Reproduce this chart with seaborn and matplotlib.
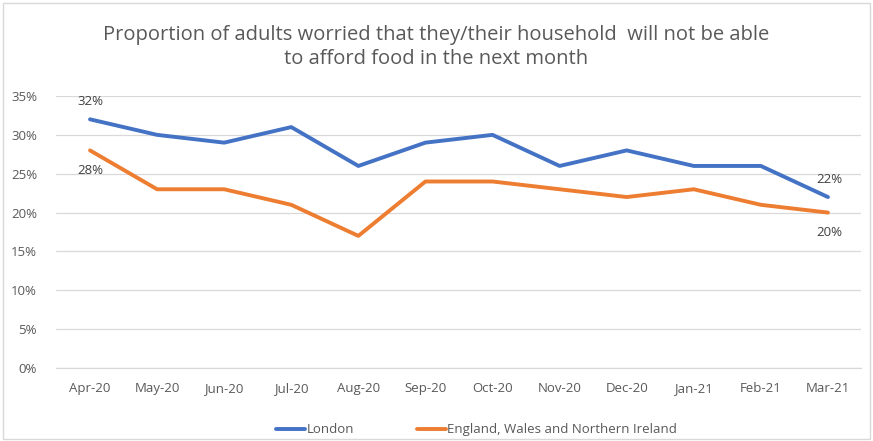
import matplotlib
matplotlib.use("Agg")
import matplotlib.pyplot as plt
import seaborn as sns
import pandas as pd
from matplotlib.patches import Rectangle

months = ["Apr-20", "May-20", "Jun-20", "Jul-20", "Aug-20", "Sep-20",
          "Oct-20", "Nov-20", "Dec-20", "Jan-21", "Feb-21", "Mar-21"]
london = [32, 30, 29, 31, 26, 29, 30, 26, 28, 26, 26, 22]
ewni = [28, 23, 23, 21, 17, 24, 24, 23, 22, 23, 21, 20]
series_names = ["London", "England, Wales and Northern Ireland"]
colors = ["#4472C4", "#ED7D31"]
y_ticks = [0, 5, 10, 15, 20, 25, 30, 35]

df = pd.DataFrame({
    "month": months * 2,
    "x": list(range(len(months))) * 2,
    "value": london + ewni,
    "series": [series_names[0]] * len(months) + [series_names[1]] * len(months),
})

sns.set_theme(style="white")
plt.rcParams["font.family"] = ["Open Sans", "DejaVu Sans"]
text_color = "#595959"

fig = plt.figure(figsize=(8.73, 4.41), dpi=100)
ax = fig.add_axes([0.0647, 0.1655, 0.9221, 0.6168])

sns.lineplot(data=df, x="x", y="value", hue="series", palette=colors,
             linewidth=2.8, ax=ax, legend=False, sort=False)

ax.set_xlim(-0.5, len(months) - 0.5)
ax.set_ylim(0, 35)
ax.set_yticks(y_ticks)
ax.set_yticklabels([f"{v}%" for v in y_ticks], color=text_color, fontsize=9.5)
ax.set_xticks(range(len(months)))
ax.set_xticklabels(months, color=text_color, fontsize=9.5)
ax.tick_params(axis="both", length=0, pad=10)
ax.tick_params(axis="y", pad=14)
ax.set_xlabel("")
ax.set_ylabel("")
ax.grid(axis="y", color="#D9D9D9", linewidth=0.9)
ax.set_axisbelow(True)
for side in ["top", "right", "left"]:
    ax.spines[side].set_visible(False)
ax.spines["bottom"].set_color("#D9D9D9")
ax.spines["bottom"].set_linewidth(0.9)

# value labels at the first and last month
last = len(months) - 1
label_kw = dict(color="#404040", fontsize=9.5, ha="center")
ax.annotate(f"{london[0]}%", (0, london[0]), xytext=(0, 8),
            textcoords="offset points", va="bottom", **label_kw)
ax.annotate(f"{ewni[0]}%", (0, ewni[0]), xytext=(0, -10),
            textcoords="offset points", va="top", **label_kw)
ax.annotate(f"{london[last]}%", (last, london[last]), xytext=(1, 8),
            textcoords="offset points", va="bottom", **label_kw)
ax.annotate(f"{ewni[last]}%", (last, ewni[last]), xytext=(1, -10),
            textcoords="offset points", va="top", **label_kw)

fig.text(0.5, 0.893, "Proportion of adults worried that they/their household  will not be able\nto afford food in the next month",
         ha="center", va="center", fontsize=14.5, color=text_color, linespacing=1.3)

# legend below the plot
handles = [plt.Line2D([0], [0], color=c, linewidth=2.8) for c in colors]
fig.legend(handles, series_names, loc="center", bbox_to_anchor=(0.546, 0.025),
           ncol=2, frameon=False, fontsize=9.5, labelcolor=text_color,
           handlelength=2.2, handletextpad=0.1, columnspacing=4.8)

# chart border
fig.patches.append(Rectangle((0.004, 0.004), 0.992, 0.99, transform=fig.transFigure,
                             fill=False, edgecolor="#D9D9D9", linewidth=1))

fig.savefig("out.png", dpi=100)
